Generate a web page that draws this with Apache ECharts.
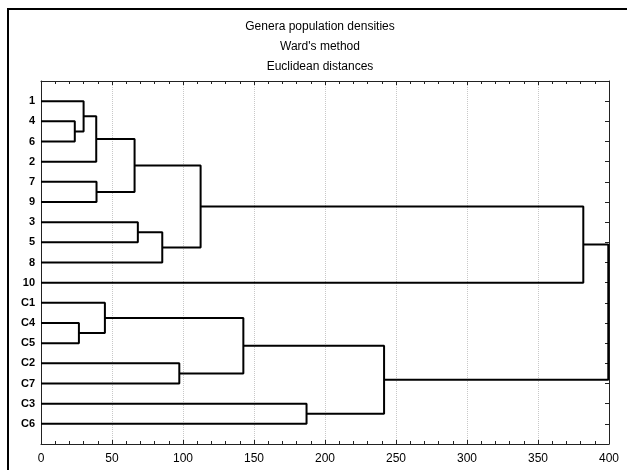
<!DOCTYPE html>
<html>
<head>
<meta charset="utf-8">
<script src="https://cdn.jsdelivr.net/npm/echarts@6/dist/echarts.min.js"></script>
<style>
  html, body { margin: 0; padding: 0; background: #fff; }
  #chart { width: 627px; height: 470px; }
</style>
</head>
<body>
<div id="chart"></div>
<script>
// leaf order, top to bottom
const leaves = ['1', '4', '6', '2', '7', '9', '3', '5', '8', '10', 'C1', 'C4', 'C5', 'C2', 'C7', 'C3', 'C6']

// merges (Ward's method): new cluster id, joined members, linkage distance
const mergeIds = ['m1', 'm2', 'm3', 'm4', 'm5', 'm6', 'm7', 'm8', 'm9', 'm10', 'm11', 'm12', 'm13', 'm14', 'm15', 'm16']
const joinA = ['4', '1', 'm2', '7', 'm3', '3', 'm6', 'm5', 'm8', 'C4', 'C1', 'C2', 'm11', 'C3', 'm13', 'm9']
const joinB = ['6', 'm1', '2', '9', 'm4', '5', '8', 'm7', '10', 'C5', 'm10', 'C7', 'm12', 'C6', 'm14', 'm15']
const joinDist = [23.8, 30.0, 38.9, 39.1, 65.9, 68.2, 85.4, 112.4, 381.9, 26.7, 45.0, 97.4, 142.5, 187, 241.6, 399.5]

const xTicks = [0, 50, 100, 150, 200, 250, 300, 350, 400]
const titleLines = ['Genera population densities', "Ward's method", 'Euclidean distances']

const chart = echarts.init(document.getElementById('chart'))

// tree layout: leaves sit at rows 1..n, a merge sits midway between its members
const node = {}
leaves.forEach((name, i) => { node[name] = { h: 0, y: i + 1 } })

const series = mergeIds.map((id, i) => {
    const a = node[joinA[i]]
    const b = node[joinB[i]]
    const h = joinDist[i]
    node[id] = { h: h, y: (a.y + b.y) / 2 }
    return {
        type: 'line',
        xAxisIndex: 0,
        yAxisIndex: 0,
        showSymbol: false,
        silent: true,
        animation: false,
        lineStyle: { color: '#000', width: 2 },
        data: [[a.h, a.y], [h, a.y], [h, b.y], [b.h, b.y]]
    }
})

const axisColor = '#222'
const tickStyle = { color: axisColor, width: 1 }

// extra x axis that only carries inward ticks (minor ticks every 10, major every 50)
function tickAxis(position, interval, len, withLine) {
    return {
        type: 'value', position: position, min: 0, max: 400, interval: interval,
        axisLine: { show: withLine, onZero: false, lineStyle: { color: axisColor, width: 1 } },
        axisTick: { show: true, inside: true, length: len, lineStyle: tickStyle },
        splitLine: { show: false },
        axisLabel: { show: false }
    }
}

const option = {
    backgroundColor: '#fff',
    animation: false,
    grid: { left: 41, right: 18, top: 81, bottom: 26 },
    graphic: [
        {
            type: 'rect',
            shape: { x: 8, y: 9, width: 800, height: 600 },
            style: { fill: 'none', stroke: '#000', lineWidth: 2 }
        }
    ].concat(titleLines.map((t, i) => ({
        type: 'text',
        x: 320,
        y: 27 + i * 20,
        style: {
            text: t, fill: '#000', font: '12px "Liberation Sans", Arial',
            textAlign: 'center', textVerticalAlign: 'middle'
        }
    }))),
    xAxis: [
        {
            type: 'value', position: 'bottom', min: 0, max: 400, interval: 50,
            axisLine: { show: true, onZero: false, lineStyle: { color: axisColor, width: 1 } },
            axisTick: { show: true, inside: true, length: 4, lineStyle: tickStyle },
            splitLine: { show: true, lineStyle: { color: '#c8c8c8', type: 'dotted', width: 1 } },
            axisLabel: {
                margin: 9, color: '#000', fontSize: 12, fontFamily: 'Liberation Sans, Arial',
                formatter: v => (xTicks.indexOf(v) >= 0 ? String(v) : '')
            }
        },
        tickAxis('top', 50, 4, true),
        tickAxis('bottom', 10, 3, false),
        tickAxis('top', 10, 3, false)
    ],
    yAxis: [
        {
            type: 'value', position: 'left', min: 0, max: leaves.length + 1, interval: 1, inverse: true,
            axisLine: { show: true, onZero: false, lineStyle: { color: axisColor, width: 1 } },
            axisTick: { show: false },
            splitLine: { show: false },
            axisLabel: {
                margin: 6, color: '#000', fontSize: 11, fontWeight: 'bold', fontFamily: 'Liberation Sans, Arial',
                formatter: v => leaves[v - 1] || ''
            }
        },
        {
            type: 'value', position: 'right', min: 0, max: leaves.length + 1, interval: 1, inverse: true,
            axisLine: { show: true, onZero: false, lineStyle: { color: axisColor, width: 1 } },
            axisTick: { show: true, inside: true, length: 4, lineStyle: tickStyle },
            splitLine: { show: false },
            axisLabel: { show: false }
        }
    ],
    series: series
}

chart.setOption(option)
</script>
</body>
</html>
